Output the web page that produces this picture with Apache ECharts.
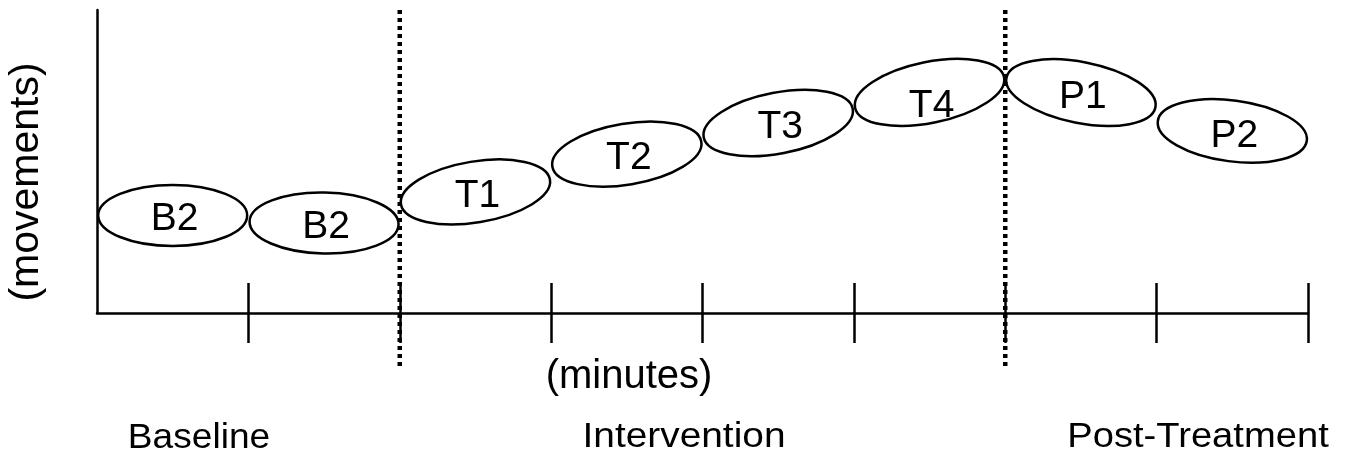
<!DOCTYPE html>
<html>
<head>
<meta charset="utf-8">
<script src="https://cdn.jsdelivr.net/npm/echarts@6/dist/echarts.min.js"></script>
<style>html,body{margin:0;padding:0;background:#fff;}#chart{width:1360px;height:465px;}</style>
</head>
<body>
<div id="chart"></div>
<script>
// ---- data ----
const segmentStarts = [0, 1, 2, 3, 4, 5, 6, 7];
const ellipseLabels = ['B2', 'B2', 'T1', 'T2', 'T3', 'T4', 'P1', 'P2'];
const startValues = [32.2, 30.2, 35.8, 48.3, 57.9, 67.7, 77.7, 63.4];
const endValues   = [32.2, 29.2, 44.1, 56.6, 67.5, 77.9, 67.8, 56.8];
const labelValues = [31.0, 28.4, 38.4, 51.2, 61.2, 68.3, 71.1, 58.4];
const phaseBoundaries = [2, 6];
const xTickValues = [1, 2, 3, 4, 5, 6, 7, 8];
const phaseLabels = ['Baseline', 'Intervention', 'Post-Treatment'];
const xAxisName = '(minutes)';
const yAxisName = '(movements)';

const FONT = '"Liberation Sans", Arial, Helvetica, sans-serif';
const chart = echarts.init(document.getElementById('chart'), null, {renderer: 'canvas'});

const ellipseData = segmentStarts.map((s, i) => [s, startValues[i], endValues[i], labelValues[i]]);

const phasePos = [[199, 438], [684, 437], [1198, 437]];
const phaseScale = [1.06, 1.11, 1.09];

const option = {
  backgroundColor: '#fff',
  animation: false,
  grid: {left: 97, right: 52, top: 10, bottom: 152, containLabel: false},
  xAxis: [{
    type: 'value', min: 0, max: 8, interval: 1, position: 'bottom',
    axisLine: {show: true, lineStyle: {color: '#000', width: 2.5}},
    axisTick: {show: true, length: 30, customValues: xTickValues, lineStyle: {color: '#000', width: 2.5}},
    axisLabel: {show: false}, splitLine: {show: false}
  }, {
    type: 'value', min: 0, max: 8, interval: 1, position: 'bottom', gridIndex: 0,
    axisLine: {show: false},
    axisTick: {show: true, inside: true, length: 30, customValues: xTickValues, lineStyle: {color: '#000', width: 2.5}},
    axisLabel: {show: false}, splitLine: {show: false}
  }],
  yAxis: {
    type: 'value', min: 0, max: 100,
    axisLine: {show: true, lineStyle: {color: '#000', width: 2.5}},
    axisTick: {show: false}, axisLabel: {show: false}, splitLine: {show: false}
  },
  graphic: [
    {type: 'text', x: 27, y: 182, rotation: Math.PI / 2,
     style: {text: yAxisName, font: '41px ' + FONT, fill: '#000', align: 'center', verticalAlign: 'middle'}},
    {type: 'text', x: 629, y: 377,
     style: {text: xAxisName, font: '40px ' + FONT, fill: '#000', align: 'center', verticalAlign: 'middle'}}
  ].concat(phaseLabels.map((t, i) => ({
    type: 'text', x: phasePos[i][0], y: phasePos[i][1], scaleX: phaseScale[i],
    style: {text: t, font: '35px ' + FONT, fill: '#000', align: 'center', verticalAlign: 'middle'}
  }))),
  series: [{
    type: 'custom',
    clip: false,
    silent: true,
    data: phaseBoundaries.map(v => [v]),
    encode: {x: 0},
    renderItem: function (params, api) {
      const v = api.value(0);
      const top = api.coord([v, 100]);
      const bot = api.coord([v, 0]);
      return {
        type: 'line',
        shape: {x1: top[0], y1: top[1], x2: bot[0], y2: bot[1] + 57},
        style: {stroke: '#000', lineWidth: 4.5, lineDash: [4, 4], lineCap: 'butt'}
      };
    }
  }, {
    type: 'custom',
    clip: false,
    silent: true,
    data: ellipseData,
    encode: {x: 0, y: [1, 2]},
    renderItem: function (params, api) {
      const s = api.value(0);
      const p0 = api.coord([s, api.value(1)]);
      const p1 = api.coord([s + 1, api.value(2)]);
      const lp = api.coord([s + 0.5, api.value(3)]);
      const cx = (p0[0] + p1[0]) / 2, cy = (p0[1] + p1[1]) / 2;
      const dx = p1[0] - p0[0], dy = p1[1] - p0[1];
      const rx = Math.sqrt(dx * dx + dy * dy) / 2 - 1.2;
      const rot = Math.atan2(-dy, dx);
      return {
        type: 'group',
        children: [{
          type: 'ellipse', x: cx, y: cy, rotation: rot,
          shape: {cx: 0, cy: 0, rx: rx, ry: 30.5},
          style: {fill: 'none', stroke: '#000', lineWidth: 2.5}
        }, {
          type: 'text', x: lp[0] + 2, y: lp[1],
          style: {text: ellipseLabels[params.dataIndex], font: '39px ' + FONT, fill: '#000', align: 'center', verticalAlign: 'middle'}
        }]
      };
    }
  }]
};
chart.setOption(option);
</script>
</body>
</html>
